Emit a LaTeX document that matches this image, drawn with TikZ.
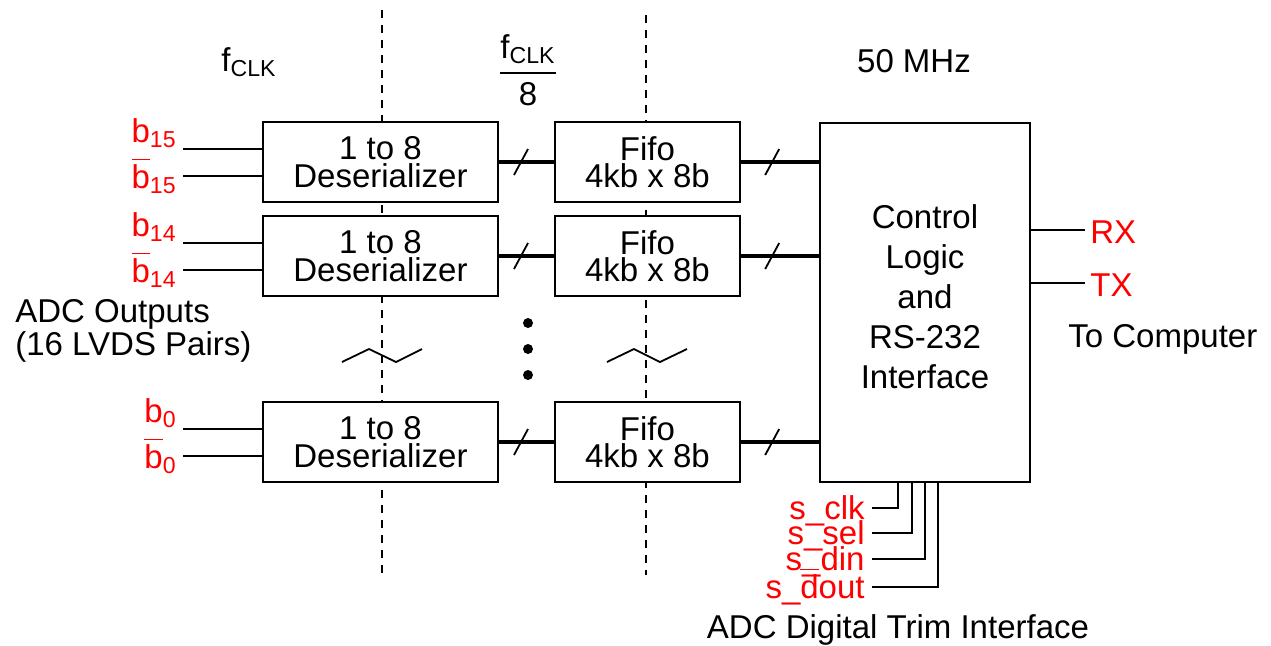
\documentclass[tikz,border=0pt]{standalone}
\usepackage{amsmath}
\usepackage{fontspec}
\setmainfont{Liberation Sans}
\begin{document}
\begin{tikzpicture}[x=0.5pt, y=-0.5pt, font=\fontsize{16.5}{13.8}\selectfont,
  block/.style={draw, line width=1pt, fill=white, align=center, inner sep=0pt},
  lbl/.style={inner sep=0pt},
  sig/.style={lbl, text=red},
  bus/.style={line width=2pt},
  wire/.style={line width=0.9pt}]
  \useasboundingbox (0,0) rectangle (1271,645);
  % clock domain borders
  \draw[line width=0.8pt, dash pattern=on 4pt off 3.5pt] (382,10) -- (382,575);
  \draw[line width=0.8pt, dash pattern=on 4pt off 3.5pt] (646,15) -- (646,575);
  \node[lbl, anchor=base] (fclk) at (249,71) {f\textsubscript{CLK}};
  \node (fdiv) at (528,70) {$\genfrac{}{}{1pt}{0}{\mbox{f\textsubscript{CLK}}}{\mbox{8}}$};
  \node[lbl, anchor=base] (fmhz) at (914,72) {50 MHz};
  % control block
  \node[block, minimum width=105pt, minimum height=179.5pt] (ctrl) at (925,302.5) {};
  \node[lbl, align=center, font=\fontsize{16.5}{20}\selectfont] (ctrltxt) at (925,297)
    {Control\\Logic\\and\\RS-232\\Interface};
  % one row per LVDS pair
  \foreach \b/\y in {15/162, 14/256, 0/442} {
    \node[block, minimum width=117.5pt, minimum height=40pt] (desr\b) at (380.5,\y) {1 to 8\\Deserializer};
    \node[block, minimum width=92.5pt, minimum height=40pt] (fifo\b) at (647.5,\y) {Fifo\\4kb x 8b};
    \coordinate (p\b) at (183,\y-13);
    \coordinate (n\b) at (183,\y+14);
    \draw[wire] (p\b) -- (p\b -| desr\b.west);
    \draw[wire] (n\b) -- (n\b -| desr\b.west);
    \node[sig, anchor=base east] at (177,\y-20) {b\textsubscript{\b}};
    \node[sig, anchor=base east] at (177,\y+26) {$\overline{\mbox{b}}$\textsubscript{\b}};
    \draw[bus] (desr\b) -- coordinate[pos=0.4] (ma\b) (fifo\b);
    \draw[bus] (fifo\b.east) -- coordinate[pos=0.4] (mb\b) (fifo\b.east -| ctrl.west);
    \draw[wire] ([shift={(-7,13)}]ma\b) -- ([shift={(7,-13)}]ma\b);
    \draw[wire] ([shift={(-7,13)}]mb\b) -- ([shift={(7,-13)}]mb\b);
  }
  % omitted rows
  \draw[wire] (342,362) -- (369,349) -- (396,362) -- (422,349);
  \draw[wire] (607,362) -- (634,349) -- (660,362) -- (687,349);
  \foreach \y in {323,349,375} \fill (528,\y) circle (5);
  \node[lbl, anchor=base west, align=left, font=\fontsize{16.5}{14}\selectfont] (adc) at (15,355)
    {ADC Outputs\\(16 LVDS Pairs)};
  % serial port
  \coordinate (rx) at (1085,230);
  \coordinate (tx) at (1085,283);
  \draw[wire] (rx -| ctrl.east) -- (rx);
  \draw[wire] (tx -| ctrl.east) -- (tx);
  \node[sig, anchor=base west] at (1090,243) {RX};
  \node[sig, anchor=base west] at (1090,296) {TX};
  \node[lbl, anchor=base west] (pc) at (1068,347) {To Computer};
  % trim interface
  \foreach \nm/\dx/\y/\txt in {clk/-27/508/s\_clk, sel/-13/533/s\_sel, din/0/559/s\_din,
      dout/13/587/s\_$\overline{\mbox{d}}$out} {
    \coordinate (s\nm) at (872,\y);
    \draw[wire] (s\nm) -| ([shift={(\dx,0)}]ctrl.south);
    \node[sig, anchor=base east] at (865,\y+11) {\txt};
  }
  \node[lbl, anchor=base] (trim) at (898,638) {ADC Digital Trim Interface};
\end{tikzpicture}
\end{document}
